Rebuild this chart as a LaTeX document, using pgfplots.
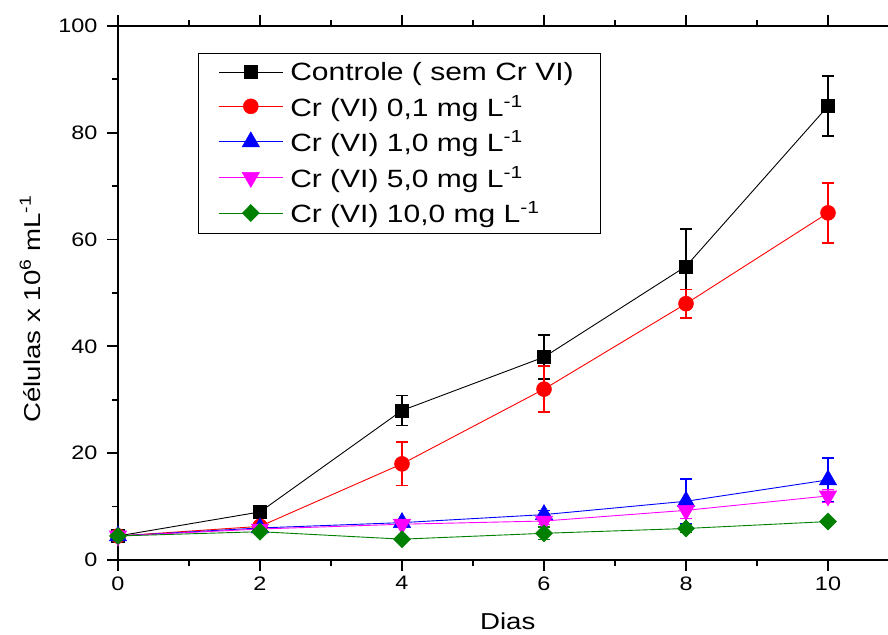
\documentclass[border=0pt]{standalone}
\usepackage{fontspec}
\setmainfont{Liberation Sans}[FakeStretch=1.2]
\usepackage{pgfplots}
\pgfplotsset{compat=1.18}
\definecolor{dgreen}{RGB}{0,128,0}
\definecolor{mag}{RGB}{255,0,255}
\begin{document}
\begin{tikzpicture}
\begin{axis}[
  scale only axis, width=781pt, height=534pt,
  xmin=0, xmax=11, ymin=0, ymax=100,
  xtick={0,2,4,6,8,10}, ytick={0,20,40,60,80,100},
  minor x tick num=1, minor y tick num=1,
  tick align=outside,
  major tick length=11pt, minor tick length=6pt,
  every tick/.style={black, line width=1.8pt},
  axis line style={line width=2.2pt},
  /pgf/number format/assume math mode=true,
  ticklabel style={font=\fontsize{19.5}{22}\selectfont},
  xticklabel style={yshift=-2pt},
  yticklabel style={xshift=-6pt},
  xlabel={Dias}, ylabel={Células x 10\textsuperscript{6} mL\textsuperscript{-1}},
  every axis x label/.style={at={(axis description cs:0.499,0)}, yshift=-61pt, anchor=center, font=\fontsize{23}{26}\selectfont},
  every axis y label/.style={at={(axis description cs:0,0.47)}, xshift=-88pt, rotate=90, anchor=center, font=\fontsize{23}{26}\selectfont},
  legend cell align=left,
  legend style={at={(0.1024,0.9494)}, anchor=north west, draw=black, line width=0.8pt,
     font=\fontsize{25}{27}\selectfont, row sep=9pt, inner xsep=20pt, inner ysep=7pt,
     nodes={inner xsep=7pt}},
  legend image code/.code={\draw[mark repeat=2,mark phase=2] plot coordinates {(0pt,0pt) (32pt,0pt) (64pt,0pt)};},
  every axis plot/.append style={line width=0.9pt},
  error bars/y dir=both, error bars/y explicit,
  error bars/error bar style={line width=1.4pt},
  error bars/error mark options={rotate=90, mark size=6pt, line width=1.4pt},
]
\addplot[black, mark=square*, mark size=6.5pt, mark options={solid, line width=0.5pt}] coordinates {
 (0,4.5) +- (0,0.3) (2,9) +- (0,0.5) (4,28) +- (0,2.8) (6,38) +- (0,4.1) (8,55) +- (0,7) (10,85) +- (0,5.6)};
\addlegendentry{Controle ( sem Cr VI)}
\addplot[red, mark=*, mark size=7.5pt, mark options={solid, line width=0.5pt}] coordinates {
 (0,4.5) +- (0,0.3) (2,6.3) +- (0,0.8) (4,18) +- (0,4.1) (6,32) +- (0,4.3) (8,48) +- (0,2.7) (10,65) +- (0,5.6)};
\addlegendentry{Cr (VI) 0,1 mg L\textsuperscript{-1}}
\addplot[blue, mark=triangle*, mark size=10pt, mark options={solid, line width=0.5pt}] coordinates {
 (0,4.5) +- (0,0.5) (2,6) +- (0,1) (4,7) +- (0,0.6) (6,8.5) +- (0,0.8) (8,11) +- (0,4.2) (10,15) +- (0,4.1)};
\addlegendentry{Cr (VI) 1,0 mg L\textsuperscript{-1}}
\addplot[mag, mark=triangle*, mark size=10pt, mark options={solid, rotate=180, line width=0.5pt}] coordinates {
 (0,4.5) +- (0,0.3) (2,5.8) +- (0,0.6) (4,6.7) +- (0,0.5) (6,7.3) +- (0,0.6) (8,9.3) +- (0,1.5) (10,12) +- (0,1.2)};
\addlegendentry{Cr (VI) 5,0 mg L\textsuperscript{-1}}
\addplot[dgreen, mark=diamond*, mark size=8.5pt, mark options={solid, xscale=1.33, line width=0.5pt}] coordinates {
 (0,4.5) +- (0,0.3) (2,5.3) +- (0,0.5) (4,3.9) +- (0,0.4) (6,5) +- (0,1.2) (8,5.9) +- (0,0.8) (10,7.2) +- (0,0.4)};
\addlegendentry{Cr (VI) 10,0 mg L\textsuperscript{-1}}
\end{axis}
\pgfresetboundingbox
\useasboundingbox (-118pt,-74pt) rectangle (770pt,560pt);
\end{tikzpicture}
\end{document}
